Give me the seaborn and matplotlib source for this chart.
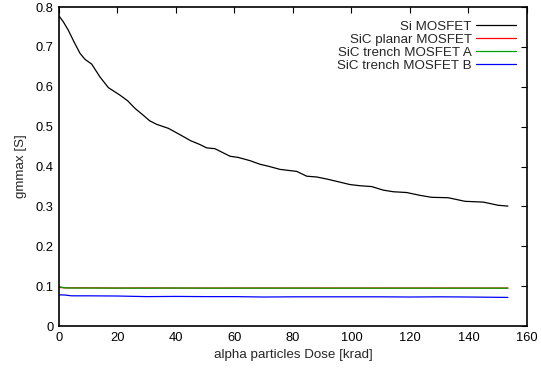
import numpy as np
import pandas as pd
import matplotlib
matplotlib.use("Agg")
import matplotlib.pyplot as plt
import seaborn as sns

# Si MOSFET curve
si_dose = [0, 1.5, 3.2, 5, 7.2, 8.9, 11.2, 14, 16.9, 20.9, 23.5, 26, 28.8, 31,
           33.4, 37.4, 41.4, 45, 48, 50.5, 53.3, 58.5, 61.3, 65.3, 68.7, 72.1,
           75.6, 79, 81.3, 84.7, 88.1, 91.5, 96.1, 99.5, 103, 106.9, 110.9,
           114.3, 118.9, 123.4, 127.4, 133.1, 138.8, 145.1, 150.2, 153.5]
si_gm = [0.778, 0.763, 0.742, 0.715, 0.684, 0.669, 0.657, 0.625, 0.598, 0.579,
         0.565, 0.546, 0.529, 0.515, 0.506, 0.496, 0.480, 0.465, 0.456, 0.447,
         0.445, 0.426, 0.423, 0.415, 0.406, 0.400, 0.393, 0.390, 0.388, 0.376,
         0.374, 0.369, 0.361, 0.355, 0.352, 0.350, 0.341, 0.337, 0.335, 0.328,
         0.323, 0.322, 0.313, 0.311, 0.303, 0.301]

# SiC devices (almost flat)
sic_dose = [0, 2, 4.3, 10, 20, 30, 40, 50, 60, 70, 80, 90, 100, 110, 120,
            130, 140, 153.5]
planar_gm = [0.097, 0.096, 0.096, 0.096, 0.0955, 0.0958, 0.0955, 0.0955, 0.0955,
             0.0956, 0.0955, 0.0956, 0.0955, 0.0956, 0.0955, 0.0956, 0.0955, 0.0955]
trench_a_gm = [0.099, 0.096, 0.0955, 0.0955, 0.0953, 0.0952, 0.0955, 0.0952, 0.0953,
               0.0952, 0.0953, 0.0951, 0.0952, 0.0951, 0.0952, 0.0951, 0.0952, 0.0951]
trench_b_gm = [0.0785, 0.078, 0.076, 0.076, 0.0755, 0.074, 0.0745, 0.074, 0.074,
               0.073, 0.0735, 0.0735, 0.0735, 0.0735, 0.073, 0.0735, 0.073, 0.072]

labels = ["Si MOSFET", "SiC planar MOSFET", "SiC trench MOSFET A", "SiC trench MOSFET B"]
colors = ["#000000", "#ff0000", "#00a000", "#0000ff"]

df = pd.concat([
    pd.DataFrame({"dose": si_dose, "gm": si_gm, "device": labels[0]}),
    pd.DataFrame({"dose": sic_dose, "gm": planar_gm, "device": labels[1]}),
    pd.DataFrame({"dose": sic_dose, "gm": trench_a_gm, "device": labels[2]}),
    pd.DataFrame({"dose": sic_dose, "gm": trench_b_gm, "device": labels[3]}),
])

sns.set_style("white")
plt.rcParams["font.family"] = ["Liberation Sans", "DejaVu Sans"]

fig = plt.figure(figsize=(5.41, 3.74), dpi=100)
ax = fig.add_axes([0.109, 0.128, 0.865, 0.853])

sns.lineplot(data=df, x="dose", y="gm", hue="device", hue_order=labels,
             palette=colors, linewidth=0.9, ax=ax, sort=False, estimator=None)

ax.set_xlim(0, 160)
ax.set_ylim(0, 0.8)
ax.set_xticks(np.arange(0, 161, 20))
ax.set_yticks(np.arange(0, 0.81, 0.1))
ax.set_yticklabels(["0", "0.1", "0.2", "0.3", "0.4", "0.5", "0.6", "0.7", "0.8"])
ax.tick_params(direction="in", length=4, width=0.8, top=True, right=True,
               labelsize=9.3, colors="black", pad=4)
for sp in ax.spines.values():
    sp.set_visible(True)
    sp.set_color("black")
    sp.set_linewidth(1.2)

ax.set_xlabel("alpha particles Dose [krad]", fontsize=9.6, labelpad=4)
ax.set_ylabel("gmmax [S]", fontsize=9.6, labelpad=6)

leg = ax.legend(loc="upper right", frameon=False, markerfirst=False,
                fontsize=9.6, handlelength=2.95, handletextpad=0.32,
                labelspacing=0.05, borderaxespad=0.0,
                bbox_to_anchor=(0.987, 0.975))
for col in leg._legend_handle_box.get_children():
    col.align = "right"

fig.savefig("out.png", dpi=100)
